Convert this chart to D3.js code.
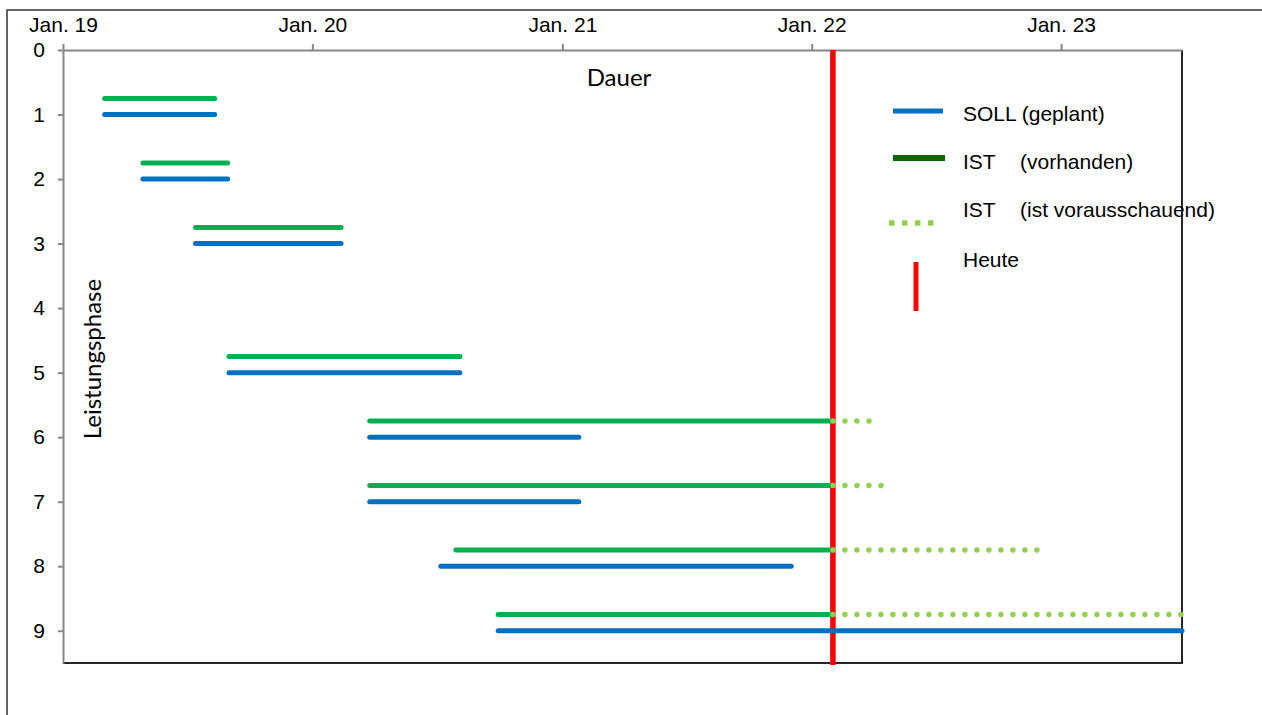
<!DOCTYPE html>
<html>
<head>
    <meta charset="utf-8">
    <title>Leistungsphasen SOLL / IST</title>
    <script src="https://d3js.org/d3.v7.min.js"></script>
    <style>
        body {
            margin: 0;
            background-color: white;
        }
        svg {
            display: block;
        }
        .tick text {
            font-family: "Liberation Sans", Arial, sans-serif;
            font-size: 21px;
            fill: black;
        }
        .axis path,
        .axis line {
            stroke: #878787;
            stroke-width: 2px;
        }
        .legend text {
            font-family: "Liberation Sans", Arial, sans-serif;
            font-size: 21px;
        }
        .title {
            font-family: Lato, "Noto Sans", sans-serif;
            font-size: 24px;
        }
    </style>
</head>
<body>
    <svg width="1262" height="715"></svg>

    <script>
        // Data
        const phases = [1, 2, 3, 5, 6, 7, 8, 9];
        const sollStart = ["2019-03-03", "2019-04-28", "2019-07-14", "2019-09-01", "2020-03-25", "2020-03-25", "2020-07-07", "2020-09-29"];
        const sollEnd   = ["2019-08-11", "2019-08-30", "2020-02-12", "2020-08-04", "2021-01-25", "2021-01-25", "2021-12-02", "2023-06-27"];
        const istStart  = ["2019-03-03", "2019-04-28", "2019-07-14", "2019-09-01", "2020-03-25", "2020-03-25", "2020-07-29", "2020-09-29"];
        const istEnd    = ["2019-08-11", "2019-08-30", "2020-02-12", "2020-08-04", "2022-02-01", "2022-02-01", "2022-02-01", "2022-02-01"];
        const forecastEnd = [null, null, null, null, "2022-03-26", "2022-04-12", "2022-11-27", "2023-06-27"];
        const heute = "2022-02-01";

        const xTickDates = ["2019-01-01", "2020-01-01", "2021-01-01", "2022-01-01", "2023-01-01"];
        const xTickLabels = ["Jan. 19", "Jan. 20", "Jan. 21", "Jan. 22", "Jan. 23"];
        const yTicks = [0, 1, 2, 3, 4, 5, 6, 7, 8, 9];

        const legendNames = ["SOLL (geplant)", "IST", "IST", "Heute"];
        const legendNotes = ["", "(vorhanden)", "(ist vorausschauend)", ""];

        const parse = d3.utcParse("%Y-%m-%d");
        const rows = phases.map((p, i) => ({
            phase: p,
            sollStart: parse(sollStart[i]),
            sollEnd: parse(sollEnd[i]),
            istStart: parse(istStart[i]),
            istEnd: parse(istEnd[i]),
            forecastEnd: forecastEnd[i] ? parse(forecastEnd[i]) : null
        }));

        const svg = d3.select("svg");
        const plotL = 63, plotR = 1182, plotT = 50, plotB = 663;

        const x = d3.scaleUtc()
            .domain([parse("2019-01-01"), parse("2023-06-27")])
            .range([plotL, plotR]);

        const y = d3.scaleLinear()
            .domain([0, 9.5])
            .range([plotT, plotB]);

        // outer frame
        svg.append("rect")
            .attr("x", 7).attr("y", 10)
            .attr("width", 1300).attr("height", 800)
            .attr("fill", "none")
            .attr("stroke", "#333")
            .attr("stroke-width", 1.5);

        // plot border (right + bottom)
        svg.append("path")
            .attr("d", `M${plotL},${plotB}H${plotR}V${plotT}`)
            .attr("fill", "none")
            .attr("stroke", "#262626")
            .attr("stroke-width", 2);

        // axes
        svg.append("g")
            .attr("class", "axis")
            .attr("transform", `translate(0,${plotT})`)
            .call(d3.axisTop(x)
                .tickValues(xTickDates.map(parse))
                .tickFormat((d, i) => xTickLabels[i])
                .tickSize(6)
                .tickSizeOuter(0)
                .tickPadding(12));

        svg.append("g")
            .attr("class", "axis")
            .attr("transform", `translate(${plotL},0)`)
            .call(d3.axisLeft(y)
                .tickValues(yTicks)
                .tickFormat(d3.format("d"))
                .tickSize(5)
                .tickSizeOuter(0)
                .tickPadding(13));

        // axis titles
        svg.append("text")
            .attr("class", "title")
            .attr("x", 619)
            .attr("y", 86)
            .attr("text-anchor", "middle")
            .text("Dauer");

        svg.append("text")
            .attr("class", "title")
            .attr("transform", "translate(101,359) rotate(-90)")
            .attr("text-anchor", "middle")
            .text("Leistungsphase");

        // today line
        svg.append("line")
            .attr("x1", x(parse(heute))).attr("x2", x(parse(heute)))
            .attr("y1", plotT).attr("y2", plotB + 2)
            .attr("stroke", "#ff0000")
            .attr("stroke-width", 5.5);

        // SOLL bars
        svg.append("g").selectAll("line")
            .data(rows)
            .join("line")
            .attr("x1", d => x(d.sollStart))
            .attr("x2", d => x(d.sollEnd))
            .attr("y1", d => y(d.phase))
            .attr("y2", d => y(d.phase))
            .attr("stroke", "#0070c0")
            .attr("stroke-width", 5)
            .attr("stroke-linecap", "round");

        // IST bars
        svg.append("g").selectAll("line")
            .data(rows)
            .join("line")
            .attr("x1", d => x(d.istStart))
            .attr("x2", d => x(d.istEnd))
            .attr("y1", d => y(d.phase - 0.25))
            .attr("y2", d => y(d.phase - 0.25))
            .attr("stroke", "#00b050")
            .attr("stroke-width", 5)
            .attr("stroke-linecap", "round");

        // IST forecast (dotted)
        svg.append("g").selectAll("line")
            .data(rows.filter(d => d.forecastEnd))
            .join("line")
            .attr("x1", d => x(d.istEnd))
            .attr("x2", d => x(d.forecastEnd) + 1)
            .attr("y1", d => y(d.phase - 0.25))
            .attr("y2", d => y(d.phase - 0.25))
            .attr("stroke", "#92d050")
            .attr("stroke-width", 5.5)
            .attr("stroke-linecap", "round")
            .attr("stroke-dasharray", "0 12");

        // legend
        const legend = svg.append("g").attr("class", "legend");
        const legY = [111, 158, 223, 262];
        const textY = [121, 169, 217, 267];

        legend.append("line")
            .attr("x1", 893).attr("x2", 943).attr("y1", legY[0]).attr("y2", legY[0])
            .attr("stroke", "#0070c0").attr("stroke-width", 5);
        legend.append("line")
            .attr("x1", 893).attr("x2", 945).attr("y1", legY[1]).attr("y2", legY[1])
            .attr("stroke", "#006400").attr("stroke-width", 6);
        legend.append("line")
            .attr("x1", 889).attr("x2", 941).attr("y1", legY[2]).attr("y2", legY[2])
            .attr("stroke", "#92d050").attr("stroke-width", 5.5)
            .attr("stroke-dasharray", "5.5 7.5");
        legend.append("line")
            .attr("x1", 916).attr("x2", 916).attr("y1", legY[3]).attr("y2", 311)
            .attr("stroke", "#ff0000").attr("stroke-width", 5);

        legendNames.forEach((name, i) => {
            legend.append("text").attr("x", 963).attr("y", textY[i]).text(name);
            if (legendNotes[i]) {
                legend.append("text").attr("x", 1020).attr("y", textY[i]).text(legendNotes[i]);
            }
        });
    </script>
</body>
</html>
